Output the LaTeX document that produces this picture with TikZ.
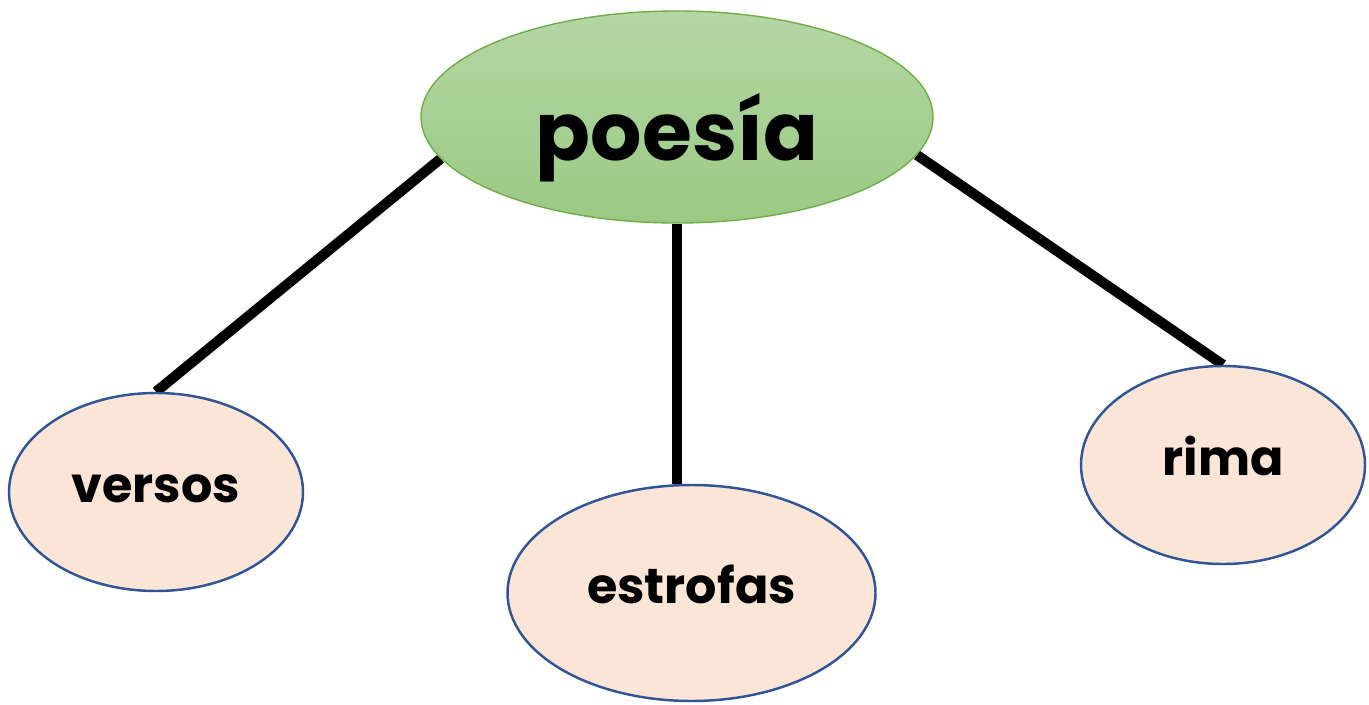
\documentclass[tikz,border=0pt]{standalone}
\usepackage{fontspec}
\setmainfont{Poppins}
\usepackage{xcolor}
\usepackage{tikz}
\usetikzlibrary{shapes,positioning,calc,backgrounds}

\definecolor{topgreen}{HTML}{B5D6A5}
\definecolor{botgreen}{HTML}{9BCA84}
\definecolor{edgegreen}{HTML}{70AD47}
\definecolor{peach}{HTML}{FBE5D6}
\definecolor{edgeblue}{HTML}{2F5597}

\tikzset{
    mainidea/.style={ellipse, draw=edgegreen, line width=0.4pt, top color=topgreen, bottom color=botgreen,
        minimum width=5.12cm, minimum height=2.12cm, inner sep=0pt, text height=0.88cm, text depth=0pt,
        font=\bfseries\fontsize{23}{23}\selectfont},
    subidea/.style={ellipse, draw=edgeblue, line width=0.7pt, fill=peach, inner sep=0pt,
        text height=0.2cm, text depth=0pt, font=\bfseries\fontsize{14}{14}\selectfont},
    branch/.style={line width=2.9pt, black}
}

\begin{document}
\begin{tikzpicture}
    \useasboundingbox (0,0) rectangle (13.69,7.04);

    % Central idea
    \node [mainidea] (poesia) at (6.77, 5.87) {poesía};

    % Sub ideas
    \node [subidea, minimum width=2.94cm, minimum height=1.98cm] (versos) at (1.56, 2.12) {versos};
    \node [subidea, minimum width=3.68cm, minimum height=2.16cm] (estrofas) at (6.915, 1.11) {estrofas};
    \node [subidea, minimum width=2.84cm, minimum height=1.98cm] (rima) at (12.23, 2.39) {rima};

    % Branches
    \begin{scope}[on background layer]
        \draw [branch] (poesia.190) -- (versos.north);
        \draw [branch] (poesia.south) -- (poesia.south |- estrofas.north);
        \draw [branch] (poesia.351) -- (rima.north);
    \end{scope}
\end{tikzpicture}
\end{document}
